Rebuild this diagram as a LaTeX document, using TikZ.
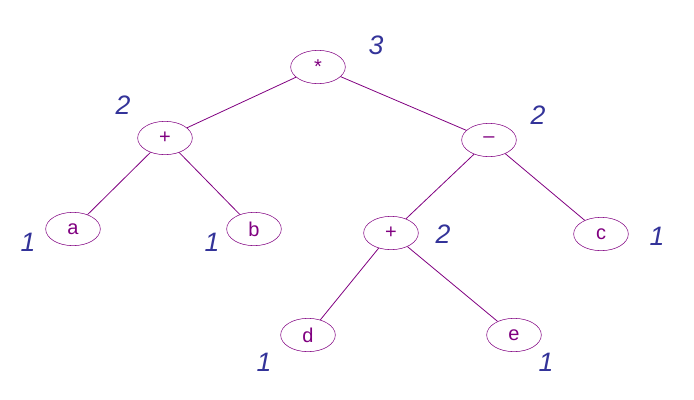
\documentclass[tikz,border=0pt]{standalone}
\usepackage{fontspec}
\setmainfont{Liberation Sans}
\usetikzlibrary{shapes.geometric}
\definecolor{treepurple}{RGB}{128,0,128}
\definecolor{countblue}{RGB}{51,51,153}

\begin{document}
\begin{tikzpicture}[
  x=0.75pt, y=-0.75pt,
  op/.style={ellipse, draw=treepurple, text=treepurple, minimum width=41pt, minimum height=25pt, inner sep=0pt, font=\fontsize{15}{15}\selectfont},
  count/.style={text=countblue, font=\fontsize{20}{20}\selectfont\itshape},
  edge/.style={draw=treepurple, line width=0.6pt}
]
\useasboundingbox (0,0) rectangle (694,400);

\node[op] (times) at (318,67) {*};
\node[op] (plusl) at (165,138) {+};
\node[op] (minus) at (489,140) {--};
\node[op] (a) at (73,229) {a};
\node[op] (b) at (254,229) {b};
\node[op] (plusr) at (391,233) {+};
\node[op] (c) at (601,234) {c};
\node[op] (d) at (308,335) {d};
\node[op] (e) at (514,335) {e};

\node[count] (ntimes) at (376,45) {3};
\node[count] (nplusl) at (123,105) {2};
\node[count] (nminus) at (538,115) {2};
\node[count] (na) at (28,242) {1};
\node[count] (nb) at (212,242) {1};
\node[count] (nplusr) at (443,234) {2};
\node[count] (nc) at (657,236) {1};
\node[count] (nd) at (264,362) {1};
\node[count] (ne) at (546,362) {1};

\path[edge] (times) -- (plusl);
\path[edge] (times) -- (minus);
\path[edge] (plusl) -- (a);
\path[edge] (plusl) -- (b);
\path[edge] (minus) -- (plusr);
\path[edge] (minus) -- (c);
\path[edge] (plusr) -- (d);
\path[edge] (plusr) -- (e);

\end{tikzpicture}
\end{document}
